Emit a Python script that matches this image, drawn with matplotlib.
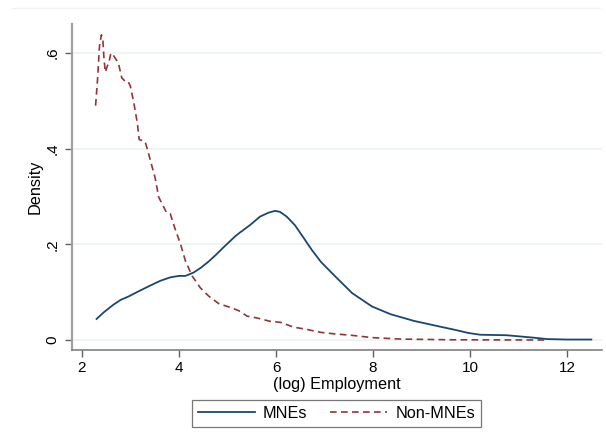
import matplotlib
matplotlib.use("Agg")
import matplotlib.pyplot as plt
from matplotlib.lines import Line2D

plt.rcParams['font.family'] = ['Liberation Sans', 'DejaVu Sans']

# MNEs density
mne_x = [2.30, 2.45, 2.65, 2.80, 2.96, 3.15, 3.41, 3.62, 3.82, 4.00, 4.13, 4.30,
         4.45, 4.61, 4.76, 4.92, 5.16, 5.26, 5.46, 5.67, 5.84, 5.98, 6.08, 6.22,
         6.39, 6.56, 6.74, 6.92, 7.19, 7.57, 7.98, 8.36, 8.84, 9.38, 9.70, 9.97,
         10.21, 10.75, 11.30, 11.58, 12.00, 12.50]
mne_y = [0.044, 0.058, 0.074, 0.084, 0.091, 0.101, 0.114, 0.124, 0.131, 0.134, 0.134, 0.141,
         0.151, 0.164, 0.178, 0.194, 0.217, 0.225, 0.240, 0.258, 0.266, 0.270, 0.268, 0.258,
         0.240, 0.215, 0.188, 0.164, 0.136, 0.098, 0.070, 0.054, 0.040, 0.028, 0.021, 0.0146,
         0.011, 0.010, 0.005, 0.002, 0.001, 0.001]

# Non-MNEs density
non_x = [2.28, 2.32, 2.36, 2.40, 2.43, 2.45, 2.48, 2.52, 2.56, 2.59, 2.62, 2.68,
         2.75, 2.82, 2.89, 2.95, 3.00, 3.07, 3.14, 3.18, 3.30, 3.35, 3.51, 3.58,
         3.74, 3.82, 3.92, 4.03, 4.13, 4.27, 4.44, 4.61, 4.82, 5.09, 5.26, 5.40,
         5.61, 5.88, 6.09, 6.36, 6.64, 6.92, 7.19, 7.57, 7.98, 8.56, 9.59, 10.5, 11.61]
non_y = [0.490, 0.544, 0.614, 0.638, 0.628, 0.593, 0.560, 0.572, 0.583, 0.597, 0.600, 0.590,
         0.579, 0.548, 0.541, 0.541, 0.530, 0.495, 0.454, 0.419, 0.415, 0.398, 0.338, 0.299,
         0.267, 0.264, 0.232, 0.201, 0.166, 0.134, 0.109, 0.092, 0.076, 0.067, 0.060, 0.050,
         0.046, 0.039, 0.037, 0.027, 0.022, 0.016, 0.013, 0.0097, 0.005, 0.002, 0.0005, 0.0002, 0.0]

xticks = [2, 4, 6, 8, 10, 12]
yticks = [0, 0.2, 0.4, 0.6]
ytick_labels = ['0', '.2', '.4', '.6']

navy = '#1a476f'
maroon = '#90353b'

W, H = 606, 444
fig = plt.figure(figsize=(W / 100, H / 100), dpi=100)
fig.patch.set_facecolor('white')
ax = fig.add_axes([72 / W, 1 - 350 / H, (602 - 72) / W, (350 - 24) / H])

ax.plot(mne_x, mne_y, color=navy, lw=1.3, solid_joinstyle='round')
ax.plot(non_x, non_y, color=maroon, lw=1.2, dashes=(4, 2.6))

ax.set_xlim(1.794, 12.72)
ax.set_ylim(-0.0209, 0.6607)

ax.set_xticks(xticks)
ax.set_xticklabels([str(v) for v in xticks])
ax.set_yticks(yticks)
ax.set_yticklabels(ytick_labels, rotation=90, va='center')

for v in yticks:
    ax.axhline(v, color='#eaf2f3', lw=1.1, zorder=0)

for s in ['top', 'right']:
    ax.spines[s].set_visible(False)
ax.spines['left'].set_color('#a0a0a0')
ax.spines['left'].set_linewidth(1.6)
ax.spines['bottom'].set_color('#808080')
ax.spines['bottom'].set_linewidth(1.2)
ax.tick_params(axis='both', direction='out', length=5, width=1, colors='#606060',
               labelcolor='black', labelsize=11)
ax.tick_params(axis='y', pad=4)
ax.tick_params(axis='x', pad=3)

ax.set_xlabel('(log) Employment', fontsize=11.7, labelpad=1)
ax.set_ylabel('Density', fontsize=11.7, labelpad=2)

# faint outer border line at top
fig.add_artist(Line2D([12 / W, 600 / W], [1 - 8 / H, 1 - 8 / H], color='#eef3f3', lw=1))

handles = [Line2D([], [], color=navy, lw=1.3),
           Line2D([], [], color=maroon, lw=1.2, dashes=(4, 2.6))]
leg = fig.legend(handles, ['MNEs', 'Non-MNEs'], loc='center',
                 bbox_to_anchor=(336.5 / W, 1 - 413.5 / H), ncol=2, fontsize=11.7,
                 frameon=True, fancybox=False, edgecolor='#555555', handlelength=3.5,
                 handletextpad=0.5, columnspacing=1.4, borderpad=0.35)
leg.get_frame().set_linewidth(0.9)

fig.savefig('out.png', dpi=100, facecolor='white')
